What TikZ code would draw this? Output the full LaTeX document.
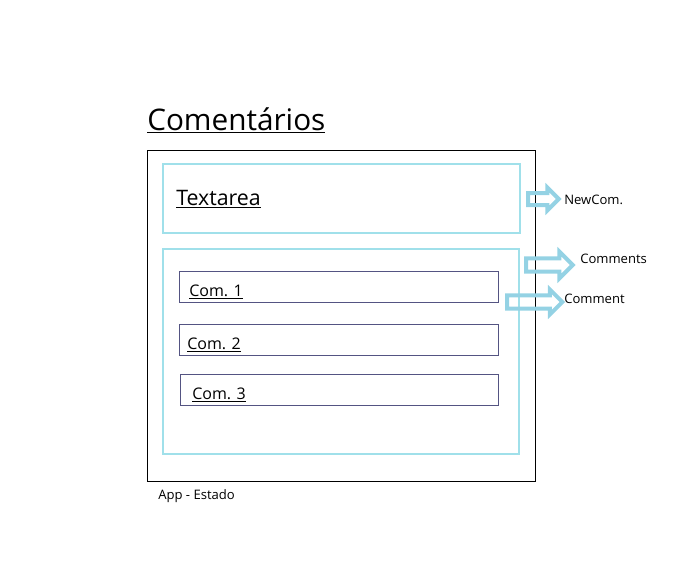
\documentclass[tikz,border=0pt]{standalone}
\usepackage{fontspec}
\setmainfont{Open Sans}
\usepackage{tikz}
\usetikzlibrary{shapes.arrows}
\definecolor{boxcyan}{RGB}{160,224,234}
\definecolor{arrowblue}{RGB}{148,210,228}
\definecolor{comline}{RGB}{84,84,130}
\tikzset{
	txt/.style={inner sep=0pt, anchor=base west},
	fatarrow/.style={single arrow, draw=arrowblue, line width=3pt, anchor=west, minimum width=#1},
}
\begin{document}
\begin{tikzpicture}[x=0.75pt, y=-0.75pt]
				\useasboundingbox (0,0) rectangle (696,564);
				\draw[black, line width=0.75pt] (147,150) rectangle (535,481);
				\draw[boxcyan, line width=1pt] (163,164) rectangle (520,233);
				\draw[boxcyan, line width=1pt] (163,249) rectangle (519,454);
				\foreach \i/\x/\y/\t in {1/179/271/189, 2/179/324/187, 3/180/374/192} {
					\draw[comline, line width=0.7pt] (\x,\y) rectangle (498,\y+31);
					\node[txt, font=\fontsize{12}{14}\selectfont] (com\i) at (\t,\y+25) {\underline{Com. \i}};
				}
				\node[txt, font=\fontsize{22.3}{26}\selectfont] (title) at (147,130) {\underline{Comentários}};
				\node[txt, font=\fontsize{16}{19}\selectfont] (textarea) at (176,205) {\underline{Textarea}};
				\node[txt, font=\fontsize{9.8}{12}\selectfont] (estado) at (158,499) {App - Estado};
				% arrows
				\node[fatarrow=14pt, inner sep=3pt, single arrow head extend=4pt, minimum height=23pt] (anew) at (526,199) {};
				\node[fatarrow=17pt, inner sep=3.4pt, single arrow head extend=5pt, minimum height=35pt] (acomments) at (524,265) {};
				\node[fatarrow=15.5pt, inner sep=3.4pt, single arrow head extend=4.4pt, minimum height=41.5pt] (acomment) at (505,302) {};
				\node[txt, font=\fontsize{9.8}{12}\selectfont] (newcom) at (564,204) {NewCom.};
				\node[txt, font=\fontsize{9.8}{12}\selectfont] (comments) at (580,263) {Comments};
				\node[txt, font=\fontsize{9.8}{12}\selectfont] (comment) at (564,303) {Comment};
			\end{tikzpicture}
\end{document}
